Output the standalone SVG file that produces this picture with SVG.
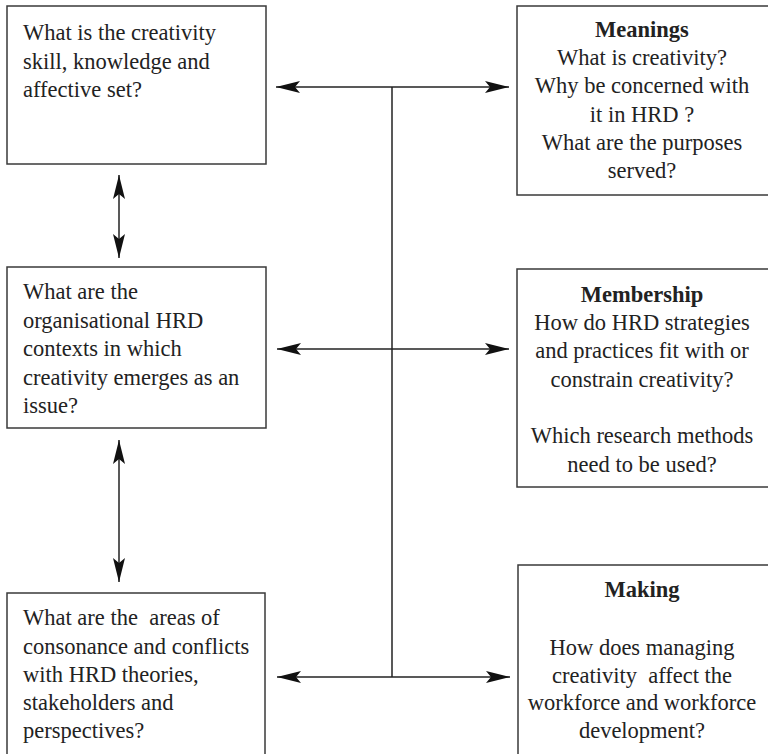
<svg xmlns="http://www.w3.org/2000/svg" width="768" height="754" viewBox="0 0 768 754">
<defs>
<style>
.box{fill:#fff;stroke:#3a3a3a;stroke-width:1.5}
.t{font-family:'Liberation Serif','Times New Roman',Times,'DejaVu Serif',serif;font-size:22.5px;fill:#222}
.c{text-anchor:middle}
.b{font-weight:bold}
.ln{fill:none;stroke:#222;stroke-width:1.5}
</style>
<marker id="ah" viewBox="0 0 24 12" refX="24" refY="6" markerWidth="24" markerHeight="12" markerUnits="userSpaceOnUse" orient="auto-start-reverse">
<path d="M0,0 L24,6 L0,12 L5,6 Z" fill="#111"/>
</marker>
</defs>
<rect width="768" height="754" fill="#fff"/>
<g id="connectors">
<line class="ln" x1="392" y1="87" x2="392" y2="677"/>
<line class="ln" x1="276" y1="87" x2="509" y2="87" marker-start="url(#ah)" marker-end="url(#ah)"/>
<line class="ln" x1="277" y1="349" x2="509" y2="349" marker-start="url(#ah)" marker-end="url(#ah)"/>
<line class="ln" x1="277" y1="677" x2="510" y2="677" marker-start="url(#ah)" marker-end="url(#ah)"/>
<line class="ln" x1="119" y1="175" x2="119" y2="258" marker-start="url(#ah)" marker-end="url(#ah)"/>
<line class="ln" x1="119" y1="440" x2="119" y2="582" marker-start="url(#ah)" marker-end="url(#ah)"/>
</g>
<g font-family="Liberation Serif, serif">
<g id="skill">
<rect class="box" x="7" y="6" width="259" height="158"/>
<text class="t" x="23" y="40">What is the creativity</text>
<text class="t" x="23" y="69">skill, knowledge and</text>
<text class="t" x="23" y="97">affective set?</text>
</g>
<g id="contexts">
<rect class="box" x="7" y="267" width="259" height="161"/>
<text class="t" x="23" y="299">What are the</text>
<text class="t" x="23" y="328">organisational HRD</text>
<text class="t" x="23" y="356">contexts in which</text>
<text class="t" x="23" y="385">creativity emerges as an</text>
<text class="t" x="23" y="413">issue?</text>
</g>
<g id="consonance">
<rect class="box" x="7" y="593" width="258" height="170"/>
<text class="t" x="23" y="625" xml:space="preserve">What are the  areas of</text>
<text class="t" x="23" y="654">consonance and conflicts</text>
<text class="t" x="23" y="682">with HRD theories,</text>
<text class="t" x="23" y="710">stakeholders and</text>
<text class="t" x="23" y="738">perspectives?</text>
</g>
<g id="meanings">
<rect class="box" x="517" y="6" width="260" height="189"/>
<text class="t c b" x="642" y="37">Meanings</text>
<text class="t c" x="642" y="65">What is creativity?</text>
<text class="t c" x="642" y="93">Why be concerned with</text>
<text class="t c" x="642" y="122">it in HRD ?</text>
<text class="t c" x="642" y="150">What are the purposes</text>
<text class="t c" x="642" y="178">served?</text>
</g>
<g id="membership">
<rect class="box" x="517" y="269" width="260" height="218"/>
<text class="t c b" x="642" y="302">Membership</text>
<text class="t c" x="642" y="330">How do HRD strategies</text>
<text class="t c" x="642" y="358">and practices fit with or</text>
<text class="t c" x="642" y="387">constrain creativity?</text>
<text class="t c" x="642" y="443">Which research methods</text>
<text class="t c" x="642" y="472">need to be used?</text>
</g>
<g id="making">
<rect class="box" x="518" y="565" width="260" height="198"/>
<text class="t c b" x="642" y="597">Making</text>
<text class="t c" x="642" y="655">How does managing</text>
<text class="t c" x="642" y="683" xml:space="preserve">creativity  affect the</text>
<text class="t c" x="642" y="710">workforce and workforce</text>
<text class="t c" x="642" y="738">development?</text>
</g>
</g>
</svg>
